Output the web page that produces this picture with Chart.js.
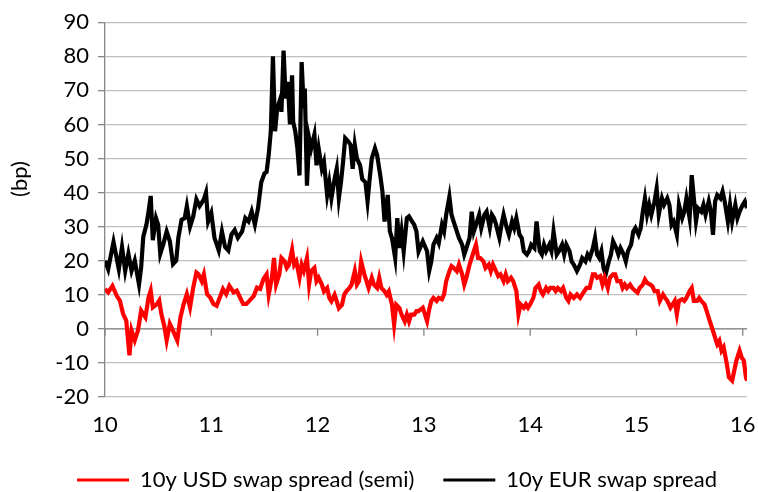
<!DOCTYPE html>
<html>
<head>
<meta charset="utf-8">
<script src="https://cdn.jsdelivr.net/npm/chart.js@4.4.1/dist/chart.umd.min.js"></script>
<style>
  html, body { margin: 0; padding: 0; background: #fff; }
  #wrap { width: 758px; height: 492px; }
</style>
</head>
<body>
<div id="wrap"><canvas id="swaps"></canvas></div>
<script>
// x values are years (10 = 2010)
var yearTicks = [10, 11, 12, 13, 14, 15, 16];

var usdYears = [10.00,10.03,10.07,10.11,10.14,10.17,10.20,10.23,10.25,10.28,10.31,10.34,10.38,10.41,10.43,10.45,10.49,10.51,10.53,10.56,10.58,10.61,10.64,10.68,10.71,10.74,10.77,10.80,10.83,10.86,10.88,10.91,10.93,10.96,10.99,11.02,11.05,11.08,11.11,11.14,11.17,11.21,11.24,11.27,11.30,11.33,11.36,11.40,11.43,11.46,11.49,
  11.52,11.54,11.57,11.59,11.61,11.64,11.66,11.69,11.71,11.73,11.76,11.78,11.80,11.83,11.85,11.87,11.90,11.92,11.94,11.97,11.99,12.01,12.04,12.06,12.09,12.11,12.13,12.16,12.18,12.20,12.23,12.25,12.27,12.30,12.32,12.35,12.37,12.39,12.41,12.44,12.46,12.48,12.51,12.53,12.56,12.58,12.60,12.63,12.65,12.67,12.70,12.72,12.74,12.77,12.79,12.82,12.84,12.86,12.88,12.91,12.93,12.95,
  12.99,13.03,13.05,13.07,13.09,13.12,13.14,13.17,13.19,13.21,13.24,13.26,13.28,13.31,13.33,13.36,13.38,13.40,13.43,13.45,13.47,13.49,13.51,13.53,13.56,13.58,13.61,13.63,13.65,13.68,13.70,13.72,13.75,13.77,13.79,13.82,13.84,13.87,13.89,13.91,13.94,13.96,13.98,14.00,14.03,14.05,14.08,14.10,14.12,14.15,14.17,14.19,14.22,14.24,14.26,14.29,14.31,14.34,14.36,14.38,14.41,14.44,
  14.47,14.50,14.53,14.56,14.59,14.61,14.63,14.66,14.68,14.70,14.73,14.75,14.78,14.80,14.82,14.85,14.87,14.89,14.91,14.94,14.96,14.99,15.01,15.03,15.06,15.08,15.10,15.13,15.15,15.17,15.20,15.22,15.25,15.27,15.29,15.32,15.34,15.36,15.38,15.40,15.43,15.45,15.47,15.50,15.52,15.54,15.57,15.59,15.61,15.64,15.66,15.69,15.71,15.73,15.76,15.78,15.80,15.82,15.85,15.87,15.90,15.92,15.94,15.97,15.99,16.01,16.03,16.04];
var usdSpread = [11.7,10.7,12.6,9.7,8.3,4.4,2.4,-7.8,-0.5,-3.4,-0.5,5.3,3.4,9.2,11.2,6.3,7.3,8.3,4.4,0.5,-3.4,1.5,-0.5,-3.4,3.4,7.3,10.2,6.3,12.1,16.5,16,14,16,10.2,9.2,7.3,6.8,9.2,11.7,10.2,12.6,10.7,11.2,9.2,7.3,7.3,8.3,9.7,12.1,11.7,14.6,
  16,10,15,20.8,13,16,20.8,19.8,17.9,18.8,23.2,18.8,19.8,15,18.8,17,20.8,13,17,17.9,14,15,13,11,12,9.1,8.1,10,8.1,6.1,7.1,10,11,12,13,17,13,14,19.8,16,14,12,15,13,12,15,12,11,10,11,7.1,1.3,7.1,6.1,4.2,2.2,4.2,2.2,4.2,4.2,5.2,5.2,
  6.2,2.3,5.7,8.2,9.1,8.2,9.1,8.7,10.1,14,16.9,18.4,17.9,16.9,18.9,16,13,15,18.9,20.8,22.8,24.7,20.8,20.8,19.8,17.9,18.9,16.9,18.9,16.9,15.5,16,14,16,14,15,14,11.1,4.3,7.2,6.2,7.2,6.2,7.2,9.1,12,13,11.1,10.1,12,11.1,12,12,11.1,12,11.1,12,9.1,8.2,10.1,9.1,10.1,
  9.1,10.6,12,12,16,16,15,15.5,13,15,12,15,16,16,14,14,12,13,12,13,12,11.1,10.6,12,13,14.5,13.5,13,12.5,11.1,11.1,8.2,10.1,9.1,8.2,6.2,7.2,8.2,4.3,8.2,8.7,8.2,9.1,11.1,12,8.2,8.2,9.1,8.2,7.2,5.3,2.3,0.4,-1.6,-4.5,-3.5,-6.4,-5.4,-10.3,-14.2,-15.2,-12.3,-9.3,-6.4,-8.4,-9.3,-14.2,-15.2];

var eurYears = [10.00,10.03,10.08,10.13,10.16,10.19,10.22,10.25,10.28,10.32,10.34,10.36,10.39,10.41,10.43,10.45,10.48,10.50,10.52,10.55,10.58,10.61,10.64,10.67,10.69,10.72,10.75,10.77,10.80,10.83,10.86,10.89,10.93,10.95,10.97,11.00,11.03,11.07,11.10,11.13,11.16,11.19,11.22,11.25,11.29,11.32,11.35,11.38,11.41,11.44,11.47,11.50,
  11.52,11.54,11.56,11.58,11.60,11.62,11.65,11.66,11.68,11.70,11.72,11.74,11.76,11.77,11.79,11.81,11.83,11.85,11.87,11.88,11.90,11.92,11.94,11.97,11.99,12.01,12.04,12.06,12.09,12.11,12.13,12.16,12.18,12.20,12.22,12.24,12.26,12.29,12.31,12.33,12.35,12.37,12.40,12.42,12.45,12.47,12.49,12.51,12.54,12.56,12.59,12.61,12.63,12.66,12.68,12.70,12.73,12.75,12.77,12.79,12.81,12.84,12.86,12.89,12.91,12.93,12.95,
  12.99,13.03,13.05,13.07,13.09,13.12,13.14,13.17,13.19,13.21,13.24,13.26,13.28,13.31,13.33,13.36,13.38,13.40,13.43,13.45,13.47,13.50,13.52,13.54,13.57,13.59,13.62,13.64,13.66,13.68,13.71,13.73,13.75,13.78,13.80,13.83,13.85,13.87,13.90,13.92,13.94,13.97,13.99,14.01,14.04,14.06,14.09,14.11,14.13,14.15,14.18,14.20,14.22,14.25,14.27,14.30,14.32,14.34,14.37,14.39,14.41,14.44,
  14.47,14.49,14.52,14.54,14.56,14.59,14.61,14.63,14.65,14.67,14.69,14.71,14.74,14.76,14.78,14.81,14.83,14.85,14.88,14.90,14.92,14.95,14.97,14.99,15.02,15.04,15.06,15.08,15.10,15.12,15.14,15.17,15.19,15.21,15.24,15.26,15.29,15.31,15.33,15.35,15.38,15.40,15.43,15.45,15.47,15.50,15.52,15.54,15.56,15.58,15.61,15.63,15.65,15.68,15.70,15.72,15.74,15.76,15.79,15.81,15.83,15.86,15.88,15.90,15.93,15.95,15.97,16.00,16.02,16.04];
var eurSpread = [20,17.5,25.5,17.5,24,17,22,17,20,13,18,27,30.6,34.5,39,26,32.5,30.6,22,25,28.6,25.7,19,20,26.7,32,32.5,36,30,33,38,36,38,40,31.5,34,26.7,23,28.6,24,23,27.7,29,26.7,28.6,32.5,31.5,34.5,30.6,35.5,43,45.6,
  46,51,58,80,58,64.7,67.6,63.7,81.7,67.6,72.5,60,74.4,60.8,58,53,45,78.3,64.7,70.5,42,56,53,57,48,53,47,49,39.3,43,38.3,44,47,38.3,43,49,56,55,54,47,54,50,48,44,43,37.4,44,50,53,51,45,40.3,31.5,39.3,28.6,26.6,20.8,32.5,23.7,28.6,22.7,32.5,33,31.5,30.5,28.6,22.7,
  25.7,22.8,17,19.8,24.7,26.7,25.2,30.5,28.6,33.5,38.8,33.5,31.5,28.6,26.7,24.7,21.8,23.7,26.7,34.4,28.6,31.5,33.5,29.6,33.5,34.4,29.6,33.5,32.5,30.5,26.7,30.5,33.5,29.6,27.6,31.5,29.6,32.5,27.6,26.7,22.8,21.8,22.8,24.7,23.7,31.5,22.8,21.8,24.7,22.8,24.7,22.8,28.6,21.8,22.8,24.7,21.8,24.7,22.8,19.8,18.9,17,
  18.9,20.8,19.8,21.8,20.8,23.7,26.7,21.8,20.8,22.8,17.9,16,19.8,21.8,25.7,23.7,21.8,23.7,21.8,19.8,22.8,24.7,28.6,29.6,27.6,29.6,34.4,38.3,33.5,36.4,33.5,37.4,41.2,33.5,38.3,36.4,38.3,36.4,30.5,31.5,27.6,36.4,32.5,34.4,38.3,32.5,45.1,38.3,31.5,35.4,34.4,36.4,33.5,37.4,34.4,27.6,37.4,39.3,38.3,40.3,37.4,31.5,36.4,31.5,36.4,32.5,34.4,36.4,37.4,35.4];

var FONT = 'Lato';
var FONT_SIZE = 22;
var AXIS_GREY = '#868686';

function pairs(xs, ys) {
  return xs.map(function (x, i) { return {x: x, y: ys[i]}; });
}

// x axis sits at zero with small tick marks; y title drawn by hand (offset above centre)
var extras = {
  id: 'extras',
  beforeDatasetsDraw: function (chart) {
    var ctx = chart.ctx, xs = chart.scales.x, ys = chart.scales.y, area = chart.chartArea;
    var y0 = ys.getPixelForValue(0);
    ctx.save();
    ctx.strokeStyle = AXIS_GREY;
    ctx.lineWidth = 1.3;
    ctx.beginPath();
    ctx.moveTo(area.left, y0);
    ctx.lineTo(area.right, y0);
    yearTicks.forEach(function (v) {
      var px = xs.getPixelForValue(v);
      ctx.moveTo(px, y0);
      ctx.lineTo(px, y0 + 7);
    });
    ctx.stroke();
    ctx.restore();
  },
  afterDraw: function (chart) {
    var ctx = chart.ctx;
    ctx.save();
    ctx.translate(20, 179);
    ctx.rotate(-Math.PI / 2);
    ctx.textAlign = 'center';
    ctx.textBaseline = 'middle';
    ctx.fillStyle = '#000';
    ctx.font = FONT_SIZE + 'px ' + FONT;
    ctx.fillText('(bp)', 0, 0);
    ctx.restore();
  }
};

var ctx = document.getElementById('swaps').getContext('2d');

var chart = new Chart(ctx, {
  type: 'line',
  data: {
    datasets: [{
      label: '10y USD swap spread (semi)',
      data: pairs(usdYears, usdSpread),
      borderColor: '#FF0000',
      backgroundColor: '#FF0000',
      borderWidth: 4.2,
      pointRadius: 0,
      tension: 0
    }, {
      label: '10y EUR swap spread',
      data: pairs(eurYears, eurSpread),
      borderColor: '#000000',
      backgroundColor: '#000000',
      borderWidth: 4.2,
      pointRadius: 0,
      tension: 0
    }]
  },
  options: {
    responsive: true,
    maintainAspectRatio: false,
    animation: false,
    layout: {padding: {top: 18, right: 0, bottom: 0, left: 36}},
    plugins: {
      tooltip: {enabled: false},
      legend: {
        position: 'bottom',
        maxHeight: 52,
        labels: {
          color: '#000',
          font: {family: FONT, size: FONT_SIZE},
          boxWidth: 52,
          boxHeight: 3,
          padding: 29,
          generateLabels: function (chart) {
            var items = Chart.defaults.plugins.legend.labels.generateLabels(chart);
            items.forEach(function (it) { it.lineWidth = 0; it.fillStyle = it.strokeStyle; });
            return items;
          }
        }
      }
    },
    scales: {
      x: {
        type: 'linear',
        min: 10,
        max: 16.04,
        grid: {display: false, drawTicks: false},
        border: {display: false},
        ticks: {color: '#000', font: {family: FONT, size: FONT_SIZE}, padding: 15, maxRotation: 0},
        afterBuildTicks: function (scale) {
          scale.ticks = yearTicks.map(function (v) { return {value: v}; });
        },
        afterFit: function (scale) {
          scale.height = 43;
          scale.paddingLeft = 0;
          scale.paddingRight = 11;
        }
      },
      y: {
        min: -20,
        max: 90,
        ticks: {stepSize: 10, color: '#000', font: {family: FONT, size: FONT_SIZE}, padding: 9},
        grid: {color: '#C0C0C0', lineWidth: 1.3, tickLength: 7, tickColor: AXIS_GREY},
        border: {color: AXIS_GREY, width: 1.3},
        afterFit: function (scale) { scale.width = 69; }
      }
    }
  },
  plugins: [extras]
});
</script>
</body>
</html>
